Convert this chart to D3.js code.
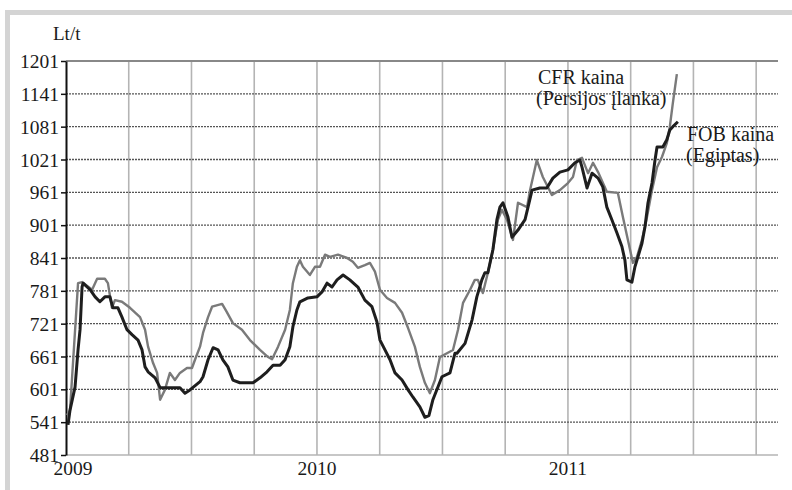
<!DOCTYPE html>
<html lang='en'>
<head>
  <meta charset='utf-8'>
  <script src="https://cdn.jsdelivr.net/npm/d3@7"></script>
  <title>Kainos Lt/t</title>
  <style>
    body { margin: 0; background: #fff; }
    svg text { font-family: "Liberation Serif", "Times New Roman", serif; fill: #1a1a1a; }
  </style>
</head>
<body>
<div id="chart"></div>
<script>
  // y axis ticks (Lt/t) and year labels
  const yTicks = [481, 541, 601, 661, 721, 781, 841, 901, 961, 1021, 1081, 1141, 1201];
  const yearLabels = [2009, 2010, 2011];

  // time as year fraction since 2009-01-01
  const cfrTime = [0.004, 0.016, 0.048, 0.064, 0.104, 0.124, 0.155, 0.167, 0.183, 0.195, 0.223, 0.255, 0.295, 0.315,
    0.327, 0.347, 0.363, 0.375, 0.394, 0.414, 0.434, 0.454, 0.482, 0.502, 0.514, 0.534, 0.546, 0.566, 0.582, 0.622,
    0.641, 0.665, 0.701, 0.733, 0.773, 0.805, 0.821, 0.845, 0.873, 0.892, 0.904, 0.920, 0.932, 0.944, 0.972, 0.992,
    1.012, 1.032, 1.052, 1.084, 1.120, 1.143, 1.163, 1.191, 1.211, 1.231, 1.251, 1.279, 1.311, 1.339, 1.363, 1.390,
    1.410, 1.430, 1.450, 1.470, 1.490, 1.518, 1.542, 1.562, 1.582, 1.610, 1.629, 1.641, 1.661, 1.681, 1.701, 1.721,
    1.737, 1.757, 1.781, 1.801, 1.837, 1.849, 1.876, 1.900, 1.936, 1.968, 2.000, 2.020, 2.036, 2.056, 2.080, 2.100,
    2.120, 2.155, 2.199, 2.219, 2.239, 2.259, 2.275, 2.295, 2.315, 2.335, 2.355, 2.375, 2.394, 2.406, 2.418, 2.434];
  const cfrValues = [554, 563, 795, 797, 783, 803, 803, 795, 750, 764, 761, 750, 733, 710,
    679, 649, 631, 582, 600, 631, 618, 631, 640, 640, 655, 679, 704, 733, 752, 757,
    742, 722, 710, 691, 673, 660, 656, 679, 710, 746, 795, 825, 837, 825, 810, 825,
    825, 847, 843, 847, 841, 834, 823, 828, 832, 816, 783, 768, 759, 741, 713, 679,
    642, 613, 594, 618, 660, 667, 673, 710, 759, 783, 801, 801, 777, 814, 856, 911,
    929, 911, 874, 942, 934, 965, 1020, 989, 956, 965, 978, 989, 1020, 1024, 996, 1015,
    998, 962, 960, 916, 874, 832, 843, 874, 916, 965, 1007, 1026, 1051, 1081, 1124, 1177];

  const fobTime = [0.008, 0.016, 0.036, 0.048, 0.056, 0.064, 0.068, 0.096, 0.116, 0.135, 0.155, 0.175, 0.187, 0.207,
    0.223, 0.243, 0.263, 0.287, 0.303, 0.315, 0.327, 0.355, 0.375, 0.402, 0.454, 0.474, 0.494, 0.534, 0.546, 0.566,
    0.586, 0.606, 0.625, 0.645, 0.665, 0.693, 0.745, 0.773, 0.801, 0.825, 0.853, 0.873, 0.892, 0.904, 0.920, 0.932,
    0.964, 1.000, 1.020, 1.040, 1.060, 1.080, 1.104, 1.131, 1.163, 1.191, 1.219, 1.239, 1.251, 1.271, 1.291, 1.311,
    1.339, 1.363, 1.382, 1.410, 1.430, 1.446, 1.462, 1.498, 1.530, 1.550, 1.558, 1.590, 1.618, 1.637, 1.657, 1.669,
    1.681, 1.701, 1.717, 1.729, 1.741, 1.761, 1.777, 1.801, 1.829, 1.841, 1.857, 1.888, 1.916, 1.940, 1.968, 2.000,
    2.028, 2.048, 2.056, 2.076, 2.096, 2.120, 2.139, 2.155, 2.175, 2.195, 2.215, 2.227, 2.235, 2.255, 2.267, 2.279,
    2.295, 2.307, 2.319, 2.335, 2.347, 2.355, 2.378, 2.394, 2.406, 2.418, 2.438];
  const fobValues = [536, 563, 605, 673, 710, 788, 795, 783, 770, 761, 770, 770, 750, 750,
    733, 710, 701, 691, 673, 642, 633, 622, 604, 604, 604, 594, 600, 615, 624, 655,
    677, 673, 655, 642, 618, 613, 613, 622, 633, 645, 645, 655, 679, 715, 746, 761,
    768, 770, 779, 795, 788, 801, 810, 801, 788, 764, 752, 724, 691, 673, 655, 631,
    618, 600, 587, 569, 550, 553, 582, 624, 631, 667, 667, 685, 728, 770, 801, 814,
    814, 856, 911, 934, 942, 916, 879, 892, 911, 934, 965, 969, 969, 987, 998, 1002,
    1015, 1020, 1007, 969, 996, 987, 971, 934, 911, 887, 862, 837, 801, 797, 825, 843,
    868, 898, 942, 978, 1020, 1044, 1044, 1057, 1075, 1081, 1090];

  const cfr = cfrTime.map((t, i) => ({ t: 2009 + t, v: cfrValues[i] }));
  const fob = fobTime.map((t, i) => ({ t: 2009 + t, v: fobValues[i] }));

  const W = 792, H = 490;
  const svg = d3.select("#chart").append("svg")
    .attr("width", W).attr("height", H);

  // frame
  svg.append("rect").attr("x", 5).attr("y", 10).attr("width", W - 5).attr("height", 5).attr("fill", "#d4d4d4");
  svg.append("rect").attr("x", 5).attr("y", 10).attr("width", 5).attr("height", H - 10).attr("fill", "#d4d4d4");

  const x = d3.scaleLinear().domain([2009, 2011.837]).range([66, 778]);
  const y = d3.scaleLinear().domain([481, 1201]).range([455, 61]);

  // vertical grid (quarters)
  const quarters = d3.range(1, 12).map(q => 2009 + q * 0.25);
  svg.append("g").selectAll("line").data(quarters).join("line")
    .attr("x1", d => x(d)).attr("x2", d => x(d))
    .attr("y1", y(1201)).attr("y2", y(481))
    .attr("stroke", "#b4b4b4").attr("stroke-width", 1.6);

  // horizontal dotted grid
  svg.append("g").selectAll("line").data(yTicks.slice(1)).join("line")
    .attr("x1", x(2009)).attr("x2", x.range()[1])
    .attr("y1", d => y(d)).attr("y2", d => y(d))
    .attr("stroke", d => d === 1201 ? "#888" : "#555")
    .attr("stroke-width", d => d === 1201 ? 2.2 : 1.3)
    .attr("stroke-dasharray", d => d === 1201 ? null : "2,1");

  // bottom line
  svg.append("line")
    .attr("x1", x(2009)).attr("x2", x.range()[1])
    .attr("y1", y(481)).attr("y2", y(481))
    .attr("stroke", "#b4b4b4").attr("stroke-width", 1.6);

  // y axis
  const yAxis = svg.append("g")
    .attr("transform", `translate(${x(2009)},0)`)
    .call(d3.axisLeft(y).tickValues(yTicks).tickFormat(d3.format("d"))
      .tickSize(5).tickSizeOuter(0).tickPadding(2));
  yAxis.attr("font-family", null).attr("font-size", null);
  yAxis.select(".domain").attr("stroke", "#111").attr("stroke-width", 2);
  yAxis.selectAll(".tick line").attr("stroke", "#111").attr("stroke-width", 1.5);
  yAxis.selectAll(".tick text")
    .style("font-size", "19.5px")
    .attr("fill", "#1a1a1a").attr("dy", "0.34em");

  // year labels
  svg.append("g").selectAll("text").data(yearLabels).join("text")
    .attr("x", (d, i) => x(d) + (i === 0 ? 7 : 0))
    .attr("y", 475)
    .attr("text-anchor", "middle")
    .style("font-size", "19.5px")
    .text(d => d);

  // unit label
  svg.append("text").attr("x", 53).attr("y", 40).style("font-size", "19px").text("Lt/t");

  // lines
  const line = d3.line().x(d => x(d.t)).y(d => y(d.v));
  svg.append("path").datum(cfr).attr("d", line)
    .attr("fill", "none").attr("stroke", "#7a7a7a").attr("stroke-width", 2.4)
    .attr("stroke-linejoin", "round");
  svg.append("path").datum(fob).attr("d", line)
    .attr("fill", "none").attr("stroke", "#1e1e1e").attr("stroke-width", 3)
    .attr("stroke-linejoin", "round");

  // series labels
  const lab = svg.append("g").style("font-size", "20px");
  lab.append("text").attr("x", 538).attr("y", 84).text("CFR kaina");
  lab.append("text").attr("x", 536).attr("y", 105).text("(Persijos įlanka)");
  lab.append("text").attr("x", 687).attr("y", 141).text("FOB kaina");
  lab.append("text").attr("x", 686).attr("y", 162).text("(Egiptas)");
</script>
</body>
</html>
